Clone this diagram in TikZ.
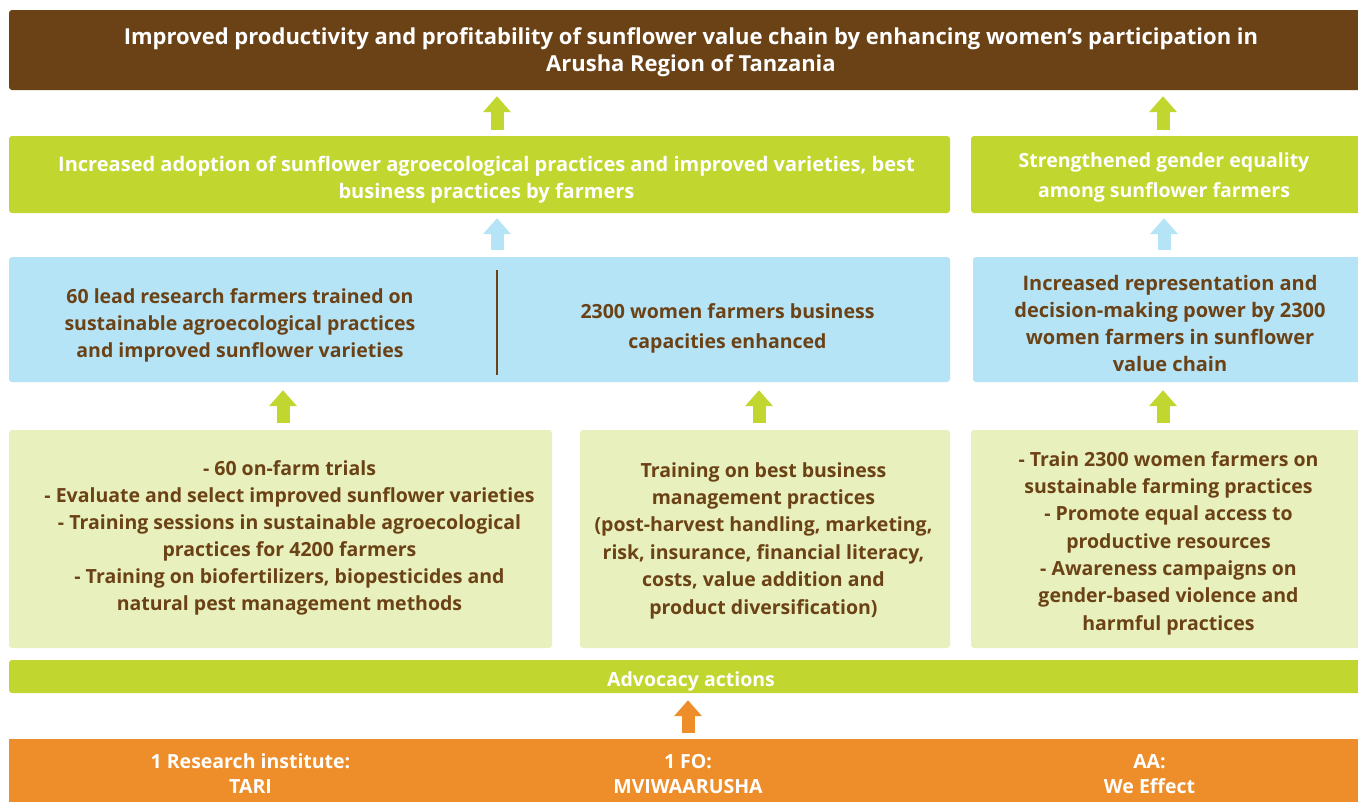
\documentclass[tikz,border=0pt]{standalone}
\usepackage{fontspec}
\setmainfont{Open Sans}
\usetikzlibrary{arrows.meta}
\definecolor{cbrown}{HTML}{6B4216}
\definecolor{cgreen}{HTML}{C1D72F}
\definecolor{cblue}{HTML}{B5E4F7}
\definecolor{clight}{HTML}{E8F0BD}
\definecolor{corange}{HTML}{EE8E2A}
\tikzset{
  box/.style={rounded corners=3pt, inner sep=0pt},
  brownbox/.style={box, fill=cbrown},
  greenbox/.style={box, fill=cgreen},
  bluebox/.style={box, fill=cblue},
  lightbox/.style={box, fill=clight},
  orangebox/.style={box, fill=corange, rounded corners=0pt},
  txt/.style={inner sep=0pt, align=center, font=\bfseries\fontsize{19.5}{27}\selectfont},
  wtxt/.style={txt, text=white},
  btxt/.style={txt, text=cbrown},
  blockarrow/.style={line width=13pt, -{Triangle[width=27pt,length=16pt]}},
}
\begin{document}
\begin{tikzpicture}[x=1pt,y=-1pt]
\clip (0,0) rectangle (1358,801);
\useasboundingbox (0,0) rectangle (1358,801);
\fill[white] (0,0) rectangle (1358,801);

% top goal
\node[brownbox, minimum width=1356pt, minimum height=80pt] (goal) at (687,50) {};
\node[wtxt, font=\bfseries\fontsize{22}{27}\selectfont] (goalt) at (691,52.5)
  {Improved productivity and profitability of sunflower value chain by enhancing women’s participation in\\Arusha Region of Tanzania};

% outcomes
\node[greenbox, minimum width=941pt, minimum height=77pt] (out1) at (479.5,174.5) {};
\node[wtxt, font=\bfseries\fontsize{20}{27}\selectfont] (out1t) at (486.5,179.5)
  {Increased adoption of sunflower agroecological practices and improved varieties, best\\business practices by farmers};
\node[greenbox, minimum width=392pt, minimum height=77pt] (out2) at (1167,174.5) {};
\node[wtxt, font=\bfseries\fontsize{19.5}{30}\selectfont] (out2t) at (1164,177)
  {Strengthened gender equality\\among sunflower farmers};

% outputs
\node[bluebox, minimum width=941pt, minimum height=125pt] (res1) at (479.5,319.5) {};
\node[btxt] (res1a) at (240,325) {60 lead research farmers trained on\\sustainable agroecological practices\\and improved sunflower varieties};
\node[btxt, font=\bfseries\fontsize{19.5}{30}\selectfont] (res1b) at (727.5,328) {2300 women farmers business\\capacities enhanced};
\coordinate (divt) at (497,270);
\coordinate (divb) at (497,375);
\draw[cbrown, line width=2pt] (divt) -- (divb);
\node[bluebox, minimum width=390pt, minimum height=125pt] (res2) at (1168,319.5) {};
\node[btxt, font=\bfseries\fontsize{20}{27.3}\selectfont] (res2t) at (1170,323.5)
  {Increased representation and\\decision-making power by 2300\\women farmers in sunflower\\value chain};

% activities
\node[lightbox, minimum width=543pt, minimum height=218pt] (act1) at (280.5,539) {};
\node[btxt] (act1t) at (289.5,537.5)
  {- 60 on-farm trials\\- Evaluate and select improved sunflower varieties\\- Training sessions in sustainable agroecological\\practices for 4200 farmers\\- Training on biofertilizers, biopesticides and\\natural pest management methods};
\node[lightbox, minimum width=370pt, minimum height=218pt] (act2) at (765,539) {};
\node[btxt, font=\bfseries\fontsize{19.5}{27.4}\selectfont] (act2t) at (763.5,540.5)
  {Training on best business\\management practices\\(post-harvest handling, marketing,\\risk, insurance, financial literacy,\\costs, value addition and\\product diversification)};
\node[lightbox, minimum width=392pt, minimum height=218pt] (act3) at (1167,539) {};
\node[btxt, font=\bfseries\fontsize{19.5}{27.3}\selectfont] (act3t) at (1168.5,543)
  {- Train 2300 women farmers on\\sustainable farming practices\\- Promote equal access to\\productive resources\\- Awareness campaigns on\\gender-based violence and\\harmful practices};

% advocacy
\node[greenbox, minimum width=1356pt, minimum height=33pt] (adv) at (687,676.5) {};
\node[wtxt] (advt) at (691,681) {Advocacy actions};

% partners
\node[orangebox, minimum width=1356pt, minimum height=70pt] (part) at (687,774) {};
\node[wtxt, font=\bfseries\fontsize{19.5}{25}\selectfont] (p1) at (250.5,774) {1 Research institute:\\TARI};
\node[wtxt, font=\bfseries\fontsize{19.5}{25}\selectfont] (p2) at (688,774) {1 FO:\\MVIWAARUSHA};
\node[wtxt, font=\bfseries\fontsize{19.5}{25}\selectfont] (p3) at (1149.5,774) {AA:\\We Effect};

% arrows
\draw[blockarrow, cgreen] ([xshift=17.5pt,yshift=6pt]out1.north) -- ([xshift=17.5pt,yshift=-6pt]goal.south -| out1.north);
\draw[blockarrow, cgreen] ([xshift=-4pt,yshift=6pt]out2.north) -- ([xshift=-4pt,yshift=-6pt]goal.south -| out2.north);
\draw[blockarrow, cblue] ([xshift=17.5pt,yshift=7pt]res1.north) -- ([xshift=17.5pt,yshift=-5pt]out1.south);
\draw[blockarrow, cblue] ([xshift=-4pt,yshift=7pt]res2.north) -- ([xshift=-4pt,yshift=-5pt]out2.south -| res2.north);
\draw[blockarrow, cgreen] ([xshift=2.5pt,yshift=7pt]act1.north) -- ([xshift=2.5pt,yshift=-8pt]res1.south -| act1.north);
\draw[blockarrow, cgreen] ([xshift=-6pt,yshift=7pt]act2.north) -- ([xshift=-6pt,yshift=-8pt]res1.south -| act2.north);
\draw[blockarrow, cgreen] ([xshift=-4pt,yshift=7pt]act3.north) -- ([xshift=-4pt,yshift=-8pt]res2.south -| act3.north);
\draw[blockarrow, corange] ([xshift=1pt,yshift=6pt]part.north) -- ([xshift=1pt,yshift=-7pt]adv.south);
\end{tikzpicture}
\end{document}
